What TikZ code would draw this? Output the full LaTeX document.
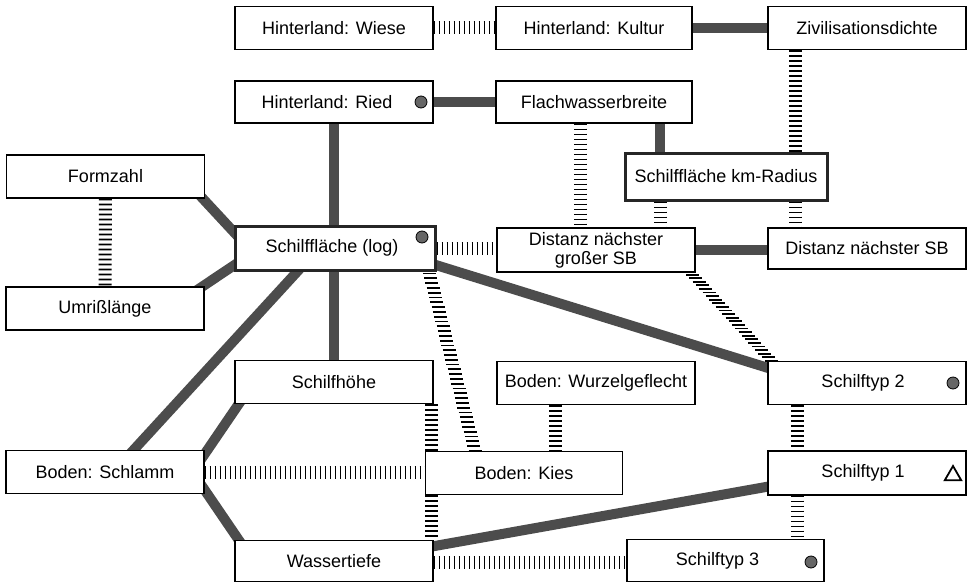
\documentclass[tikz,border=0pt]{standalone}
\usepackage{fontspec}
\setmainfont{Liberation Sans}
\usetikzlibrary{calc,shapes.geometric}
\pgfdeclarelayer{bg}
\pgfsetlayers{bg,main}
\begin{document}
\begin{tikzpicture}[x=1pt,y=-1pt,
  box/.style={draw, line width=1.2pt, fill=white, minimum width=198pt, minimum height=43pt,
    inner sep=0pt, font=\fontsize{18}{19}\selectfont},
  boldbox/.style={box, line width=3pt, draw=black!85},
  thickline/.style={line width=10pt, draw=black!70},
  ladder/.style={line width=13pt, draw=black, dash pattern=on 1.8pt off 3.2pt},
  tick/.style={line width=1.8pt, draw=black},
  dotmark/.style={circle, fill=black!60, draw=black, line width=0.8pt, minimum size=12pt, inner sep=0pt},
  trimark/.style={regular polygon, regular polygon sides=3, draw=black, line width=1.8pt,
    minimum size=19pt, inner sep=0pt}]
\useasboundingbox (0,0) rectangle (968,583);
% nodes
\node[box] (wiese) at (334,28) {Hinterland: Wiese};
\node[box,minimum width=196pt] (kultur) at (594,28) {Hinterland: Kultur};
\node[box] (zivil) at (867,28) {Zivilisationsdichte};
\node[box,minimum height=42pt] (ried) at (334,102) {Hinterland: Ried\hspace*{14pt}};
\node[box,minimum width=196pt,minimum height=42pt] (flach) at (594,102) {Flachwasserbreite};
\node[boldbox,minimum width=202pt,minimum height=47pt] (kmr) at (726,176.5) {Schilffläche km-Radius};
\node[box] (formzahl) at (105.5,176.5) {Formzahl};
\node[boldbox,minimum width=200pt,minimum height=44pt] (sfl) at (335,248) {Schilffläche (log)\hspace*{6pt}};
\node[box,align=center,minimum height=44pt] (grossb) at (596,250) {Distanz nächster\\großer SB};
\node[box,minimum height=41pt] (distsb) at (867,248.5) {Distanz nächster SB};
\node[box] (umriss) at (105,308.5) {Umrißlänge};
\node[box] (hoehe) at (334,382) {Schilfhöhe};
\node[box] (wurzel) at (596,383) {Boden: Wurzelgeflecht};
\node[box] (typ2) at (867,383) {Schilftyp 2\hspace*{8pt}};
\node[box] (schlamm) at (105,472) {Boden: Schlamm};
\node[box,minimum width=197pt] (kies) at (524,473) {Boden: Kies};
\node[box,minimum height=44pt] (typ1) at (867,473) {Schilftyp 1\hspace*{8pt}};
\node[box,minimum height=41pt] (wasser) at (334,561) {Wassertiefe};
\node[box,minimum width=197pt,minimum height=42pt] (typ3) at (725.5,560.5) {Schilftyp 3\hspace*{16pt}};
% marks
\node[dotmark] (dried) at (421,102) {};
\node[dotmark] (dsfl) at (422,237) {};
\node[dotmark] (dtyp2) at (953,383) {};
\node[dotmark] (dtyp3) at (811,562) {};
\node[trimark] (ttyp1) at (953,475.5) {};
% helper coordinates
\coordinate (c1) at (660,0);
\coordinate (c2) at (334,0);
\coordinate (c3) at (795,0);
\coordinate (c4) at (580,0);
\coordinate (c5) at (431,0);
\coordinate (c6) at (555,0);
\coordinate (c7) at (797,0);
\coordinate (h1a) at ([xshift=-7pt,yshift=-2pt]sfl.south east);
\coordinate (h1b) at ([xshift=-49pt]kies.north);
\coordinate (h2a) at ([xshift=-3pt,yshift=-2pt]grossb.south east);
\coordinate (h2b) at ([xshift=4pt]typ2.north west);
\begin{pgfonlayer}{bg}
% solid connectors
\draw[thickline] (kultur.east) -- (zivil.west);
\draw[thickline] (ried.east) -- (flach.west);
\draw[thickline] (flach.south -| c1) -- (kmr.north -| c1);
\draw[thickline] (ried.south -| c2) -- (sfl.north -| c2);
\draw[thickline] (sfl.south -| c2) -- (hoehe.north -| c2);
\draw[thickline] ([xshift=-6pt,yshift=4pt]formzahl.south east) -- ([xshift=4pt,yshift=12pt]sfl.west);
\draw[thickline] ([xshift=-8pt,yshift=-4pt]umriss.north east) -- ([xshift=4pt,yshift=-15pt]sfl.west);
\draw[thickline] ([xshift=-34pt,yshift=4pt]sfl.south) -- ([xshift=25pt,yshift=-4pt]schlamm.north);
\draw[thickline] ([xshift=-4pt,yshift=-16pt]sfl.east) -- ([xshift=4pt,yshift=14pt]typ2.west);
\draw[thickline] ([xshift=7pt,yshift=4pt]hoehe.south west) -- ([xshift=-4pt,yshift=12pt]schlamm.east);
\draw[thickline] ([xshift=-4pt,yshift=-12pt]schlamm.east) -- ([xshift=7pt,yshift=-4pt]wasser.north west);
\draw[thickline] ([xshift=-4pt,yshift=-7pt]wasser.north east) -- ([xshift=4pt,yshift=-13pt]typ1.west);
\draw[thickline] (grossb.east) -- (grossb.east -| distsb.west);
% ladder connectors
\draw[ladder] (wiese.east) -- (kultur.west);
\draw[ladder] (zivil.south -| c3) -- (kmr.north -| c3);
\draw[ladder] (flach.south -| c4) -- (grossb.north -| c4);
\draw[ladder] (kmr.south -| c1) -- (grossb.north -| c1);
\draw[ladder] (kmr.south -| c3) -- (distsb.north -| c3);
\draw[ladder] (formzahl.south) -- (umriss.north);
\draw[ladder] (sfl.east) -- (sfl.east -| grossb.west);
\foreach \i in {0,...,37} {
  \draw[tick] ($(h1a)!\i/37!(h1b)$) +(-6.5,0) -- +(6.5,0);
}
\foreach \i in {0,...,24} {
  \draw[tick] ($(h2a)!\i/24!(h2b)$) +(-6.5,0) -- +(6.5,0);
}
\draw[ladder] (hoehe.south -| c5) -- (kies.north -| c5);
\draw[ladder] (kies.south -| c5) -- (wasser.north -| c5);
\draw[ladder] (wurzel.south -| c6) -- (kies.north -| c6);
\draw[ladder] (typ2.south -| c7) -- (typ1.north -| c7);
\draw[ladder] (typ1.south -| c7) -- (typ3.north -| c7);
\draw[ladder] (schlamm.east) -- (schlamm.east -| kies.west);
\draw[ladder] ([yshift=-1pt]wasser.east) -- ([yshift=-1pt]wasser.east -| typ3.west);
\end{pgfonlayer}
\end{tikzpicture}
\end{document}
